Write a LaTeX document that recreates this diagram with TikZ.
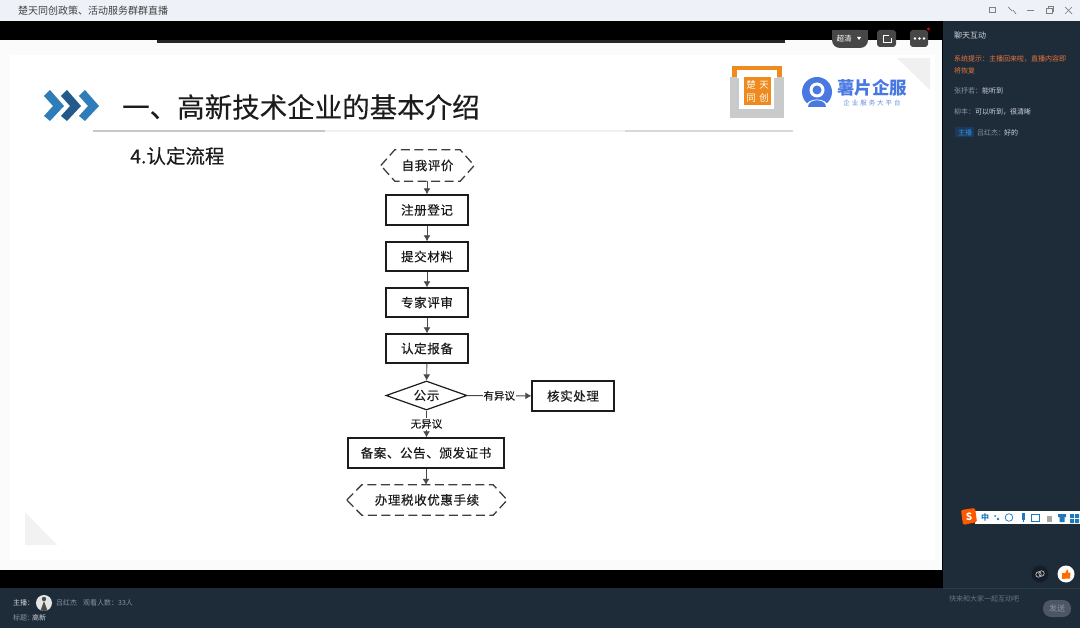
\documentclass[tikz,border=0pt]{standalone}
\usepackage{fontspec}
\setmainfont{Noto Sans CJK SC}
\newfontfamily\flowfont[LetterSpace=5,FakeBold=0.45]{Noto Sans CJK SC}
\newfontfamily\headfont[FakeBold=0.25]{Noto Sans CJK SC}
\newfontfamily\logofont[LetterSpace=30]{Noto Sans CJK SC}
\usetikzlibrary{calc,arrows.meta,shapes.geometric}
\definecolor{barbg}{HTML}{EEF2F8}
\definecolor{panel}{HTML}{1E2B39}
\definecolor{panelline}{HTML}{2C3947}
\definecolor{chatgrey}{HTML}{8B95A0}
\definecolor{chatlight}{HTML}{D2D7DC}
\definecolor{sysorange}{HTML}{E8763A}
\definecolor{logoorange}{HTML}{EE8A1E}
\definecolor{logogrey}{HTML}{C9CACB}
\definecolor{logoblue}{HTML}{4A78E2}
\definecolor{chevA}{HTML}{2E7DB8}
\definecolor{chevB}{HTML}{24598C}
\definecolor{ink}{HTML}{1C1C1C}
\definecolor{imeblue}{HTML}{1F78BC}
\definecolor{chipbg}{HTML}{1C3A58}
\definecolor{chipfg}{HTML}{2E8FE6}
\tikzset{
  flowarrow/.style={draw=ink!80,line width=.9pt,-{Latex[length=6pt,width=7pt]}},
  procbox/.style={rectangle,draw=ink,line width=1.4pt,fill=white,inner sep=0pt,font=\flowfont\fontsize{12.5}{14}\selectfont,text=ink},
  hexnode/.style={rectangle,inner sep=0pt,font=\flowfont\fontsize{12.5}{14}\selectfont,text=ink},
  hexline/.style={draw=ink!85,line width=1.3pt,dash pattern=on 9pt off 4.5pt},
  decision/.style={diamond,aspect=2.8,draw=ink,line width=1.2pt,fill=white,inner sep=0pt,font=\flowfont\fontsize{12.5}{14}\selectfont,text=ink},
  elabel/.style={fill=white,inner sep=1pt,font=\headfont\fontsize{10.5}{12}\selectfont,text=ink},
  chat/.style={anchor=west,inner sep=0pt,font=\fontsize{7}{8}\selectfont},
  winicon/.style={draw=black!50,line width=.7pt},
}
\begin{document}
\begin{tikzpicture}[x=1pt,y=-1pt]
\useasboundingbox (0,0) rectangle (1080,628);
% backgrounds
\fill[black] (0,0) rectangle (1080,628);
\fill[barbg] (0,0) rectangle (1080,21);
\fill[white!97!gray] (0,40) rectangle (942,570);
\fill[white] (10,55) rectangle (935,560);
\fill[black!85] (157,40) rectangle (785,43);
\fill[panel] (943,21) rectangle (1080,628);
\fill[panel] (0,588) rectangle (943,628);
\fill[black!5] (25,512) -- (57,545) -- (25,545) -- cycle;
\fill[cyan!6!black!7] (897,58) -- (930,58) -- (930,90) -- cycle;
\fill[black!22] (93,130.5) rectangle (325,132);
\fill[black!6] (325,130.5) rectangle (625,132);
\fill[black!15] (625,130.5) rectangle (793,132);
% title bar
\node[anchor=west,inner sep=0pt,text=black!75,font=\fontsize{10}{12}\selectfont] (wintitle) at (18,10.5) {楚天同创政策、活动服务群群直播};
\draw[winicon] (989,7) rectangle (995,12.5);
\draw[winicon] (1008,7) -- (1012,11) (1013,10) -- (1016,14);
\draw[winicon] (1027,10.5) -- (1034,10.5);
\draw[winicon] (1046,8.5) rectangle (1052,13.5) (1048,8.5) -- (1048,6.5) -- (1053.5,6.5) -- (1053.5,11.5) -- (1052,11.5);
\draw[winicon] (1065,7) -- (1072,14) (1072,7) -- (1065,14);
% player buttons
\fill[black!72,rounded corners=8pt] (832,30) rectangle (868,48);
\fill[black!72] (832,30) rectangle (868,40);
\node[inner sep=0pt,text=white,font=\fontsize{7.5}{8}\selectfont] (quality) at (844,39) {超清};
\fill[white] (857,37) -- (861,37) -- (859,40) -- cycle;
\fill[black!72,rounded corners=3pt] (877,30) rectangle (896,47);
\draw[white,line width=.8pt] (889,35) -- (883,35) -- (883,42) -- (891,42) -- (891,38);
\fill[black!72,rounded corners=3pt] (910,30) rectangle (928,47);
\foreach \x in {915,919.5,924} \fill[white] (\x,38.5) circle (1.3);
\fill[red!85!black] (928.5,29) circle (1.7);
% slide heading
\fill[chevA] (44,96) -- (50,90) -- (64,106) -- (50,121) -- (44,116) -- (53,106) -- cycle;
\fill[chevB] (61,96) -- (67,90) -- (81,106) -- (67,121) -- (61,116) -- (70,106) -- cycle;
\fill[chevA] (79,96) -- (85,90) -- (99,106) -- (85,121) -- (79,116) -- (88,106) -- cycle;
\node[anchor=west,inner sep=0pt,text=ink,font=\headfont\fontsize{27.5}{30}\selectfont] (slidetitle) at (122,107) {一、高新技术企业的基本介绍};
\node[anchor=west,inner sep=0pt,text=ink,font=\headfont\fontsize{19.5}{22}\selectfont] (subtitle) at (130,156) {4.认定流程};
% logos
\fill[logogrey] (730,77) rectangle (784,118);
\fill[white] (739,77) rectangle (774,109);
\fill[logoorange] (732,66) rectangle (782,77);
\fill[white] (737,70) rectangle (777,78);
\fill[logoorange] (744,77) rectangle (771,105);
\node[inner sep=0pt,text=white,font=\fontsize{9.5}{10}\selectfont] (lgA) at (751,85) {楚};
\node[inner sep=0pt,text=white,font=\fontsize{9.5}{10}\selectfont] (lgB) at (764,85) {天};
\node[inner sep=0pt,text=white,font=\fontsize{9.5}{10}\selectfont] (lgC) at (751,98) {同};
\node[inner sep=0pt,text=white,font=\fontsize{9.5}{10}\selectfont] (lgD) at (764,98) {创};
\fill[logoblue] (817,92) circle (15);
\fill[white] (817,90) circle (7.5);
\fill[logoblue] (817,90) circle (4.5);
\fill[white] (806,107.5) .. controls (806,97) and (828,97) .. (828,107.5) -- cycle;
\fill[logoblue] (808,107) .. controls (808,98) and (826,98) .. (826,107) -- cycle;
\node[inner sep=0pt,text=logoblue,font=\fontsize{17.5}{19}\bfseries\selectfont] (brand) at (872,88) {薯片企服};
\node[inner sep=0pt,text=logoblue!85,font=\logofont\fontsize{6.5}{8}\selectfont] (brandsub) at (872,103.5) {企业服务大平台};
% flowchart
\node[hexnode,minimum width=93pt,minimum height=31pt] (self) at (427.5,165.5) {自我评价};
\draw[hexline] (self.west) -- ($(self.north west)+(14,0)$) -- ($(self.north east)+(-14,0)$) -- (self.east) -- ($(self.south east)+(-14,0)$) -- ($(self.south west)+(14,0)$) -- cycle;
\node[procbox,minimum width=82pt,minimum height=30pt] (reg) at (427,210) {注册登记};
\node[procbox,minimum width=82pt,minimum height=29pt] (sub) at (427,256.5) {提交材料};
\node[procbox,minimum width=82pt,minimum height=29pt] (exp) at (427,302.5) {专家评审};
\node[procbox,minimum width=82pt,minimum height=29pt] (cert) at (427,348.5) {认定报备};
\node[decision,minimum width=81pt,minimum height=29pt] (pub) at (426.5,395.5) {公示};
\node[procbox,minimum width=82pt,minimum height=30pt] (check) at (573,396) {核实处理};
\node[procbox,minimum width=156pt,minimum height=30pt] (rec) at (426,453) {备案、公告、颁发证书};
\node[hexnode,minimum width=160pt,minimum height=30pt] (tax) at (427,500) {办理税收优惠手续};
\draw[hexline] (tax.west) -- ($(tax.north west)+(15,0)$) -- ($(tax.north east)+(-14,0)$) -- (tax.east) -- ($(tax.south east)+(-14,0)$) -- ($(tax.south west)+(15,0)$) -- cycle;
\draw[flowarrow] (self.south -| reg.north) -- (reg.north);
\draw[flowarrow] (reg) -- (sub);
\draw[flowarrow] (sub) -- (exp);
\draw[flowarrow] (exp) -- (cert);
\draw[flowarrow] (cert) -- (pub);
\draw[flowarrow] (pub) -- node[elabel] (yes) {有异议} (check);
\draw[flowarrow] (pub) -- node[elabel,pos=.5] (no) {无异议} (pub |- rec.north);
\draw[flowarrow] (rec) -- (rec |- tax.north);
% chat panel
\node[chat,text=chatlight,font=\fontsize{8}{9}\selectfont] (chathead) at (954,35.5) {聊天互动};
\node[chat,text=sysorange] (sysA) at (954,58.5) {系统提示：主播回来啦，直播内容即};
\node[chat,text=sysorange] (sysB) at (954,70.5) {将恢复};
\node[chat,text=chatgrey] (cA) at (954,91) {张抒若：};
\node[chat,text=chatlight] (cAb) at (982,91) {能听到};
\node[chat,text=chatgrey] (cB) at (954,112) {柳丰：};
\node[chat,text=chatlight] (cBb) at (975,112) {可以听到，很清晰};
\fill[chipbg] (955,127.5) rectangle (974,137.5);
\node[inner sep=0pt,text=chipfg,font=\fontsize{7}{8}\selectfont] (host) at (965,132.5) {主播};
\node[chat,text=chatgrey] (cC) at (977,132.5) {吕红杰：};
\node[chat,text=chatlight] (cCb) at (1004,132.5) {好的};
% input method bar
\fill[white] (975,511) rectangle (1080,524);
\fill[orange!70!red,rounded corners=1.5pt] (961,510) -- (975,508) -- (977,522) -- (963,525) -- cycle;
\node[inner sep=0pt,text=white,font=\fontsize{10}{11}\bfseries\selectfont] (sogou) at (969,516.5) {S};
\node[inner sep=0pt,text=imeblue,font=\fontsize{8}{9}\bfseries\selectfont] (zh) at (985,517.5) {中};
\fill[imeblue] (995,516) circle (1) (998,519) circle (1.3);
\draw[imeblue,line width=.7pt] (1009,517.5) circle (3.8);
\fill[imeblue] (1022,513) rectangle (1025,520);
\draw[imeblue,line width=.7pt] (1023.5,520) -- (1023.5,522);
\draw[imeblue,line width=.9pt] (1031.5,514) rectangle (1039.5,521);
\fill[black!35] (1047,516) rectangle (1052,522);
\fill[imeblue] (1058,514) -- (1066,514) -- (1066,517) -- (1064.5,517) -- (1064.5,522) -- (1059.5,522) -- (1059.5,517) -- (1058,517) -- cycle;
\fill[imeblue] (1070,514) rectangle (1074,518) (1075,514) rectangle (1079,518) (1070,519) rectangle (1074,523) (1075,519) rectangle (1079,523);
% chat input
\fill[panel!70!black] (1040,574) circle (8.5);
\draw[white!80!panel,line width=.6pt] (1038.5,574.5) circle (2.7) (1041.5,573.5) circle (2.7);
\fill[white] (1066,574) circle (8.5);
\fill[orange!85!red] (1062,573) rectangle (1064.5,578.5);
\fill[orange!85!red] (1065,573.5) -- (1067,569.5) -- (1068,570) -- (1068,572.5) -- (1070.5,572.5) -- (1070,578.5) -- (1065,578.5) -- cycle;
\draw[panelline,line width=.7pt] (943,588) -- (1080,588);
\node[chat,text=chatgrey!70!panel] (placeholder) at (949,599) {快来和大家一起互动吧};
\fill[panelline!85!white,rounded corners=8pt] (1043,600) rectangle (1071,617);
\node[inner sep=0pt,text=chatgrey,font=\fontsize{8}{9}\selectfont] (send) at (1057,608.5) {发送};
% host bar
\node[chat,text=chatlight] (hostlabel) at (13,603) {主播：};
\fill[black!10] (44,603) circle (8);
\begin{scope}
\clip (44,603) circle (8);
\fill[black!70] (44,601) -- (40,612) -- (48,612) -- cycle;
\fill[black!70] (44,599) circle (2.2);
\end{scope}
\node[chat,text=chatgrey] (hostname) at (56,603) {吕红杰};
\node[chat,text=chatgrey] (viewers) at (83,603) {观看人数：33人};
\node[chat,text=chatgrey] (titlelabel) at (13,618) {标题：};
\node[chat,text=chatlight] (titletext) at (32,618) {高新};
\end{tikzpicture}
\end{document}
